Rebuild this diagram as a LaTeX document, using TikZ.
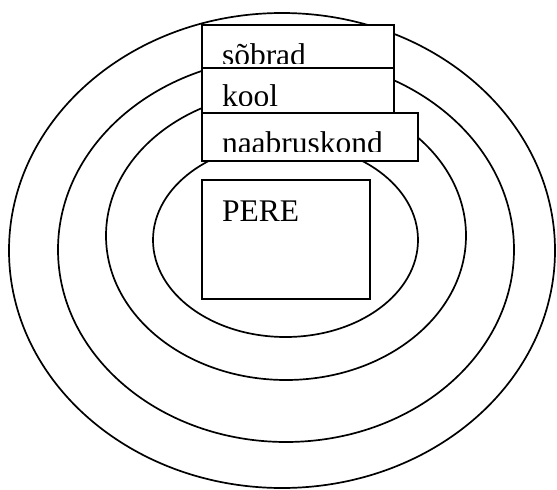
\documentclass[tikz,border=0pt]{standalone}
\usepackage{fontspec}
\setmainfont{Liberation Serif}
\begin{document}
\begin{tikzpicture}[x=1pt,y=-1pt,
  ring/.style={line width=1.7pt},
  box/.style={draw, fill=white, line width=2pt, inner sep=0pt, outer sep=0pt, anchor=north west},
  lbl/.style={font=\fontsize{31.5}{31.5}\selectfont, anchor=base west, inner sep=0pt, outer sep=0pt}]
\useasboundingbox (0,0) rectangle (557,490);
% rings
\draw[ring] (282,250.5) ellipse [x radius=273, y radius=237.5];
\draw[ring] (286,249.7) ellipse [x radius=228, y radius=192.3];
\draw[ring] (286,235.7) ellipse [x radius=180, y radius=144.3];
\draw[ring] (285.5,240) ellipse [x radius=132.5, y radius=97];
% soobrad
\node[box, minimum width=192pt, minimum height=43pt] (sobrad) at (202,25) {};
\begin{scope}
  \clip (202,25) rectangle (394,63.3);
  \node[lbl] (sobradt) at (222,65) {sõbrad};
\end{scope}
% kool
\node[box, minimum width=192pt, minimum height=45pt] (kool) at (202,68) {};
\begin{scope}
  \clip (202,68) rectangle (394,105);
  \node[lbl] (koolt) at (222,106.5) {kool};
\end{scope}
% naabruskond
\node[box, minimum width=216pt, minimum height=48pt] (naabr) at (202,113) {};
\begin{scope}
  \clip (202,113) rectangle (418,151.5);
  \node[lbl] (naabrt) at (222,153) {naabruskond};
\end{scope}
% PERE
\node[box, minimum width=168pt, minimum height=119pt] (pere) at (202,180) {};
\node[lbl] (peret) at (222,221) {PERE};
\end{tikzpicture}
\end{document}
